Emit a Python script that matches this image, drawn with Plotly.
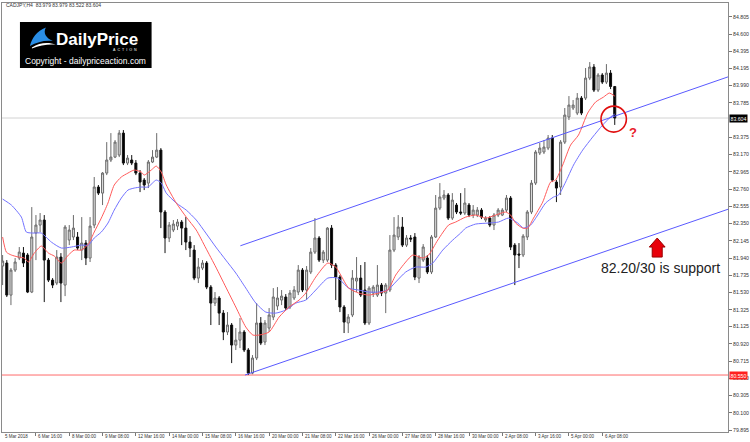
import plotly.graph_objects as go

# ---------------- data (CADJPY H4) ----------------
opens = [81.845, 81.881, 81.500, 81.797, 81.940, 81.999, 81.976, 81.536, 82.237, 82.332,
         82.392, 81.916, 81.678, 81.643, 81.952, 81.619, 82.154, 82.190, 82.190, 82.035,
         82.118, 81.940, 82.332, 82.784, 82.712, 82.950, 83.105, 83.140, 83.164, 83.425,
         83.069, 83.105, 83.069, 82.950, 82.867, 82.831, 83.081, 83.140, 83.223, 82.487,
         82.178, 82.273, 82.320, 82.368, 82.296, 82.130, 82.035, 81.702, 81.821, 81.881,
         81.595, 81.405, 81.465, 81.286, 81.061, 81.144, 80.906, 80.965, 81.061, 80.847,
         80.573, 80.752, 81.168, 80.942, 81.108, 81.239, 81.370, 81.441, 81.477, 81.358,
         81.465, 81.536, 81.797, 81.560, 81.774, 82.011, 82.178, 81.916, 81.916, 82.296,
         81.857, 81.714, 81.358, 81.168, 81.263, 81.667, 81.702, 81.560, 81.168, 81.524,
         81.500, 81.619, 81.524, 81.560, 82.035, 82.190, 82.308, 82.094, 82.178, 82.190,
         81.702, 81.916, 81.940, 81.774, 82.190, 82.534, 82.653, 82.689, 82.415, 82.570,
         82.487, 82.475, 82.570, 82.451, 82.451, 82.510, 82.392, 82.415, 82.332, 82.451,
         82.451, 82.510, 82.653, 82.094, 81.988, 81.976, 82.190, 82.487, 82.831, 83.188,
         83.200, 83.247, 83.366, 82.843, 82.784, 83.318, 83.616, 83.723, 83.663, 83.841,
         83.841, 84.079, 84.210, 83.936, 84.115, 84.031, 84.138, 83.979]
highs = [81.976, 81.916, 81.821, 81.940, 82.071, 82.071, 81.999, 82.546, 82.451, 82.475,
         82.451, 81.940, 81.702, 82.035, 81.999, 82.332, 82.332, 82.451, 82.249, 82.427,
         82.154, 82.427, 82.903, 82.808, 82.962, 83.318, 83.425, 83.342, 83.461, 83.461,
         83.164, 83.164, 83.105, 82.986, 82.891, 83.105, 83.223, 83.425, 83.247, 82.510,
         82.368, 82.392, 82.403, 82.392, 82.427, 82.201, 82.094, 81.940, 81.916, 81.904,
         81.619, 81.536, 81.488, 81.322, 81.298, 81.168, 81.108, 81.227, 81.084, 80.870,
         80.787, 81.405, 81.239, 81.203, 81.346, 81.583, 81.595, 81.560, 81.512, 81.560,
         81.607, 81.857, 81.821, 81.845, 82.059, 82.415, 82.201, 82.035, 82.308, 82.332,
         81.881, 81.738, 81.381, 81.274, 81.797, 81.952, 81.857, 81.893, 81.607, 81.619,
         81.857, 81.643, 81.643, 82.213, 82.427, 82.451, 82.427, 82.213, 82.213, 82.237,
         81.976, 82.106, 81.976, 82.213, 82.689, 82.831, 82.748, 82.712, 82.712, 82.594,
         82.712, 82.772, 82.594, 82.570, 82.546, 82.534, 82.439, 82.439, 82.475, 82.534,
         82.534, 82.689, 82.677, 82.118, 82.118, 82.225, 82.510, 82.867, 83.223, 83.307,
         83.342, 83.402, 83.402, 82.867, 83.342, 83.723, 83.865, 83.818, 83.901, 83.865,
         84.198, 84.269, 84.245, 84.138, 84.138, 84.245, 84.174, 83.979]
lows = [81.619, 81.477, 81.381, 81.774, 81.916, 81.833, 81.524, 81.524, 81.916, 82.249,
        81.417, 81.655, 81.583, 81.619, 81.417, 81.488, 82.094, 82.154, 82.035, 81.916,
        81.857, 81.893, 82.296, 82.689, 82.570, 82.926, 83.081, 83.128, 83.140, 83.045,
        83.045, 83.045, 82.926, 82.724, 82.748, 82.772, 83.069, 83.128, 82.296, 81.999,
        82.130, 82.249, 82.273, 82.094, 82.035, 81.952, 81.678, 81.643, 81.797, 81.571,
        81.144, 81.370, 81.144, 80.965, 81.025, 80.692, 80.847, 80.870, 80.823, 80.550,
        80.560, 80.728, 80.906, 80.906, 81.061, 81.203, 81.322, 81.381, 81.322, 81.334,
        81.441, 81.500, 81.536, 81.441, 81.750, 81.988, 81.893, 81.881, 81.893, 81.821,
        81.441, 81.298, 81.049, 81.049, 81.239, 81.536, 81.477, 81.144, 81.144, 81.477,
        81.477, 81.488, 81.286, 81.536, 82.011, 82.154, 82.071, 82.071, 82.130, 81.678,
        81.643, 81.893, 81.750, 81.750, 82.178, 82.510, 82.629, 82.392, 82.392, 82.463,
        82.451, 82.451, 82.427, 82.415, 82.427, 82.403, 82.368, 82.308, 82.273, 82.427,
        82.439, 82.487, 82.035, 81.619, 81.821, 81.952, 82.154, 82.463, 82.808, 83.164,
        83.176, 83.223, 82.843, 82.605, 82.689, 83.295, 83.580, 83.699, 83.639, 83.639,
        83.818, 84.055, 83.913, 83.913, 84.008, 84.008, 83.948, 83.522]
closes = [81.904, 81.500, 81.797, 81.893, 82.011, 81.881, 81.536, 82.190, 82.332, 82.392,
          81.916, 81.678, 81.619, 81.952, 81.643, 82.308, 82.273, 82.296, 82.059, 82.118,
          81.940, 82.320, 82.784, 82.712, 82.950, 83.105, 83.140, 83.318, 83.425, 83.069,
          83.128, 83.069, 82.950, 82.843, 82.808, 83.081, 83.140, 83.223, 82.487, 82.178,
          82.332, 82.344, 82.368, 82.296, 82.130, 82.059, 81.702, 81.833, 81.881, 81.595,
          81.405, 81.465, 81.286, 81.061, 81.144, 80.906, 80.965, 81.061, 80.847, 80.573,
          80.752, 81.168, 80.930, 81.168, 81.263, 81.477, 81.465, 81.488, 81.346, 81.524,
          81.560, 81.797, 81.560, 81.797, 82.011, 82.178, 81.916, 82.011, 82.296, 81.857,
          81.714, 81.358, 81.179, 81.239, 81.702, 81.702, 81.500, 81.168, 81.583, 81.595,
          81.619, 81.524, 81.619, 82.035, 82.213, 82.308, 82.094, 82.178, 82.166, 81.714,
          81.952, 82.071, 81.774, 82.190, 82.534, 82.665, 82.689, 82.415, 82.629, 82.487,
          82.475, 82.594, 82.451, 82.510, 82.510, 82.427, 82.415, 82.332, 82.451, 82.510,
          82.510, 82.653, 82.071, 81.976, 81.976, 82.201, 82.487, 82.831, 83.200, 83.247,
          83.259, 83.366, 82.867, 82.772, 83.318, 83.639, 83.758, 83.758, 83.841, 83.663,
          84.079, 84.210, 83.936, 84.115, 84.031, 84.138, 83.979, 83.604]
bars = list(range(len(opens)))

# fast (red) and slow (blue) moving averages
red_x = [0, 0.9, 2.1, 3.8, 5.2, 6.2, 7.6, 9.3, 11.0, 12.4, 14.1, 15.8, 17.2, 18.9, 20.6, 22.0,
         23.7, 25.3, 26.8, 28.5, 30.1, 31.6, 33.3, 34.0, 35.7, 36.9, 38.1, 39.3, 41.7, 44.1,
         46.5, 48.8, 51.2, 53.6, 56.0, 58.4, 60.1, 61.6, 64.0, 66.4, 68.8, 71.2, 72.8, 75.2,
         78.1, 80.0, 81.2, 83.1, 85.5, 87.9, 90.3, 92.5, 94.4, 96.8, 98.5, 100.9, 102.3, 104.5,
         107.1, 108.8, 111.2, 113.6, 116.0, 118.4, 120.8, 122.0, 123.2, 124.9, 126.1, 127.5,
         129.7, 131.6, 132.8, 134.5, 136.4, 138.3, 140.5, 142.4, 144.3, 145.7, 147.0]
red_y = [82.190, 82.011, 81.976, 81.952, 81.940, 81.893, 81.999, 82.083, 81.999, 81.964, 81.881,
         81.976, 82.035, 82.035, 82.106, 82.249, 82.415, 82.594, 82.808, 82.903, 82.950, 82.986,
         82.962, 82.926, 82.986, 83.033, 82.962, 82.808, 82.594, 82.427, 82.273, 82.059, 81.833,
         81.595, 81.358, 81.120, 81.025, 81.025, 81.061, 81.239, 81.358, 81.441, 81.524, 81.714,
         81.881, 81.833, 81.738, 81.583, 81.524, 81.500, 81.524, 81.560, 81.738, 81.893, 81.976,
         81.940, 81.976, 82.154, 82.332, 82.368, 82.427, 82.451, 82.415, 82.451, 82.487, 82.451,
         82.356, 82.296, 82.296, 82.415, 82.605, 82.843, 82.867, 83.045, 83.283, 83.402, 83.663,
         83.794, 83.853, 83.901, 83.865]
blue_x = [0, 2.1, 4.5, 5.7, 7.6, 9.3, 11.7, 14.1, 16.5, 18.9, 20.6, 22.0, 23.7, 25.3, 26.8, 28.5,
          30.1, 31.6, 33.3, 34.9, 36.9, 38.1, 39.3, 41.7, 44.1, 46.5, 48.8, 51.2, 53.6, 56.0, 58.4,
          60.8, 63.2, 65.6, 68.0, 70.4, 72.8, 75.2, 78.1, 80.5, 83.1, 85.5, 87.9, 90.3, 92.5, 94.4,
          96.8, 99.2, 101.6, 103.3, 105.7, 108.1, 110.0, 111.2, 113.6, 116.7, 119.1, 121.5, 123.7,
          125.1, 126.8, 128.5, 130.4, 132.3, 133.5, 135.2, 137.1, 139.3, 141.7, 144.1, 146.0, 147.0]
blue_y = [82.641, 82.570, 82.427, 82.249, 82.237, 82.237, 82.130, 82.059, 82.071, 82.094, 82.094,
          82.178, 82.249, 82.356, 82.510, 82.653, 82.748, 82.772, 82.784, 82.784, 82.867, 82.831,
          82.712, 82.594, 82.510, 82.392, 82.237, 82.071, 81.916, 81.762, 81.583, 81.405, 81.298,
          81.286, 81.322, 81.405, 81.441, 81.560, 81.702, 81.702, 81.583, 81.560, 81.536, 81.536,
          81.560, 81.655, 81.774, 81.833, 81.833, 81.881, 82.035, 82.154, 82.237, 82.296, 82.344,
          82.356, 82.368, 82.415, 82.356, 82.296, 82.332, 82.451, 82.594, 82.665, 82.689, 82.843,
          83.045, 83.223, 83.378, 83.521, 83.616, 83.651]

# channel lines (bar index, price)
upper_x = [57.1, 174.2]
upper_y = [82.086, 84.093]
lower_x = [58.2, 174.2]
lower_y = [80.550, 82.520]

support_level = 80.550
last_price = 83.604
header = "CADJPY,H4  83.979 83.979 83.522 83.604"

date_idx = [0, 8, 16, 24, 32, 40, 48, 56, 64, 72, 80, 88, 96, 104, 112, 120, 128, 136, 144]
date_labels = ["5 Mar 2018", "6 Mar 16:00", "8 Mar 00:00", "9 Mar 08:00", "12 Mar 16:00",
               "14 Mar 00:00", "15 Mar 08:00", "16 Mar 16:00", "20 Mar 00:00", "21 Mar 08:00",
               "22 Mar 16:00", "26 Mar 00:00", "27 Mar 08:00", "28 Mar 16:00", "30 Mar 00:00",
               "2 Apr 08:00", "3 Apr 16:00", "5 Apr 00:00", "6 Apr 08:00"]
# (83.580 sits under the current-price box in the reference, so it is not drawn)
price_labels = ["84.805", "84.600", "84.395", "84.195", "83.990", "83.785", "83.375",
                "83.170", "82.965", "82.760", "82.555", "82.350", "82.145", "81.940", "81.735",
                "81.530", "81.325", "81.125", "80.920", "80.715", "80.510", "80.305", "80.100",
                "79.895"]

# annotation anchors (bar index / price)
arrow_bar, arrow_tip, arrow_neck, arrow_tail = 157.2, 82.178, 82.071, 81.952
note_bar, note_price = 143.1, 81.821
question_bar, question_price = 151.4, 83.437
circle_x = [143.7, 149.8]
circle_y = [83.437, 83.746]

X_RANGE = [-0.15, 174.2]
Y_RANGE = [79.873, 84.971]

# ---------------- figure ----------------
fig = go.Figure()
fig.add_trace(go.Candlestick(
    x=bars, open=opens, high=highs, low=lows, close=closes,
    increasing=dict(line=dict(color="#6a6a6a", width=1), fillcolor="#dedede"),
    decreasing=dict(line=dict(color="#111111", width=1), fillcolor="#000000"),
    whiskerwidth=0, hoverinfo="skip", showlegend=False))
fig.add_trace(go.Scatter(x=blue_x, y=blue_y, mode="lines", line=dict(color="#7272ff", width=1, shape="spline", smoothing=0.6),
                         hoverinfo="skip", showlegend=False))
fig.add_trace(go.Scatter(x=red_x, y=red_y, mode="lines", line=dict(color="#ff5a5a", width=1, shape="spline", smoothing=0.6),
                         hoverinfo="skip", showlegend=False))
fig.add_trace(go.Scatter(x=upper_x, y=upper_y, mode="lines", line=dict(color="#5a5aff", width=1),
                         hoverinfo="skip", showlegend=False))
fig.add_trace(go.Scatter(x=lower_x, y=lower_y, mode="lines", line=dict(color="#5a5aff", width=1),
                         hoverinfo="skip", showlegend=False))


def px(x):
    return (x - 1) / 728


def py(y):
    return (432 - y) / 429


shapes = [
    dict(type="line", xref="paper", x0=0, x1=1, yref="y", y0=support_level, y1=support_level,
         line=dict(color="#ff6b6b", width=1), layer="below"),
    dict(type="line", xref="paper", x0=0, x1=1, yref="y", y0=last_price, y1=last_price,
         line=dict(color="#d2d2d2", width=1), layer="below"),
    dict(type="circle", xref="x", yref="y", x0=circle_x[0], x1=circle_x[1], y0=circle_y[0], y1=circle_y[1],
         line=dict(color="#e01010", width=1.6)),
    dict(type="path", xref="x", yref="y",
         path=(f"M {arrow_bar-1.9},{arrow_neck} L {arrow_bar},{arrow_tip} L {arrow_bar+1.9},{arrow_neck} "
               f"L {arrow_bar+1.2},{arrow_neck} L {arrow_bar+1.2},{arrow_tail} L {arrow_bar-1.2},{arrow_tail} "
               f"L {arrow_bar-1.2},{arrow_neck} Z"),
         fillcolor="#e8000a", line=dict(color="#9a0000", width=1)),
    # logo
    dict(type="rect", xref="paper", yref="paper", x0=px(19), x1=px(151), y0=py(68), y1=py(22),
         fillcolor="#000000", line=dict(width=0)),
]


def pth(pts):
    s = ""
    for cmd, coords in pts:
        s += cmd + " " + " ".join(f"{px(a):.5f},{py(b):.5f}" for a, b in coords) + " "
    return s + "Z"


shapes.append(dict(type="path", xref="paper", yref="paper",
                   path=pth([("M", [(29, 46)]), ("C", [(31, 38), (36, 31), (45, 27.5)]),
                             ("C", [(42, 33), (45, 38), (52, 41)]), ("C", [(44, 40), (36, 42), (29, 46)])]),
                   fillcolor="#2a8ee6", line=dict(width=0)))
shapes.append(dict(type="path", xref="paper", yref="paper",
                   path=pth([("M", [(31, 47.5)]), ("C", [(39, 42), (48, 42), (55, 44.5)]),
                             ("C", [(47, 44), (39, 45), (31, 48.5)])]),
                   fillcolor="#ffffff", line=dict(width=0)))

annotations = []
for i, lab in zip(date_idx, date_labels):
    annotations.append(dict(x=i, xref="x", y=py(436.5), yref="paper", text=lab, showarrow=False,
                            xanchor="left", yanchor="middle", xshift=0.5,
                            font=dict(size=4.5, color="#333333", family="Liberation Sans")))
annotations += [
    dict(x=px(3), y=py(5.5), xref="paper", yref="paper", text=header, showarrow=False,
         xanchor="left", yanchor="middle", font=dict(size=5, color="#333333", family="Liberation Sans")),
    dict(x=1, xref="paper", y=last_price, yref="y", text=last_price.__format__(".3f"), showarrow=False,
         xanchor="left", yanchor="middle", xshift=1, bgcolor="#000000", borderpad=0.5,
         font=dict(size=5.2, color="#ffffff", family="Liberation Sans")),
    dict(x=1, xref="paper", y=support_level, yref="y", text=support_level.__format__(".3f"), showarrow=False,
         xanchor="left", yanchor="middle", xshift=1, bgcolor="#ff2020", borderpad=0.5,
         font=dict(size=5.2, color="#ffffff", family="Liberation Sans")),
    dict(x=note_bar, y=note_price, xref="x", yref="y", text="82.20/30 is support", showarrow=False,
         xanchor="left", yanchor="middle", font=dict(size=14, color="#222222", family="Liberation Sans")),
    dict(x=question_bar, y=question_price, xref="x", yref="y", text="<b>?</b>", showarrow=False,
         xanchor="center", yanchor="middle", font=dict(size=13, color="#e8202a", family="Liberation Sans")),
    dict(x=px(53), y=py(39.5), xref="paper", yref="paper", text="<b>DailyPrice</b>", showarrow=False,
         xanchor="left", yanchor="middle", font=dict(size=17, color="#ffffff", family="Liberation Sans")),
    dict(x=px(138), y=py(50), xref="paper", yref="paper",
         text="A\u00a0\u00a0C\u00a0\u00a0T\u00a0\u00a0I\u00a0\u00a0O\u00a0\u00a0N", showarrow=False,
         xanchor="right", yanchor="middle", font=dict(size=3.6, color="#ffffff", family="Liberation Sans")),
    dict(x=px(85), y=py(61), xref="paper", yref="paper", text="Copyright - dailypriceaction.com",
         showarrow=False, xanchor="center", yanchor="middle",
         font=dict(size=8.5, color="#ffffff", family="Liberation Sans")),
]

fig.update_layout(
    width=750, height=442,
    margin=dict(l=1, r=21, t=3, b=10),
    paper_bgcolor="#ffffff", plot_bgcolor="#ffffff",
    showlegend=False, hovermode=False,
    shapes=shapes, annotations=annotations,
    xaxis=dict(range=X_RANGE, showgrid=False, zeroline=False, rangeslider=dict(visible=False),
               tickmode="array", tickvals=date_idx[1:], ticktext=[""] * len(date_idx[1:]),
               ticks="outside", ticklen=3, tickcolor="#777777", showline=True, linecolor="#8a8a8a",
               linewidth=1, mirror=True, fixedrange=True),
    yaxis=dict(range=Y_RANGE, side="right", showgrid=False, zeroline=False,
               tickmode="array", tickvals=[float(t) for t in price_labels], ticktext=price_labels,
               ticks="outside", ticklen=3, tickcolor="#777777",
               tickfont=dict(size=5.2, color="#333333", family="Liberation Sans"),
               showline=True, linecolor="#8a8a8a", linewidth=1, mirror=True, fixedrange=True),
    font=dict(family="Liberation Sans"),
)

fig.write_html("out.html", config={"displayModeBar": False},
               post_script="document.body.style.margin='0';document.body.style.overflow='hidden';")
